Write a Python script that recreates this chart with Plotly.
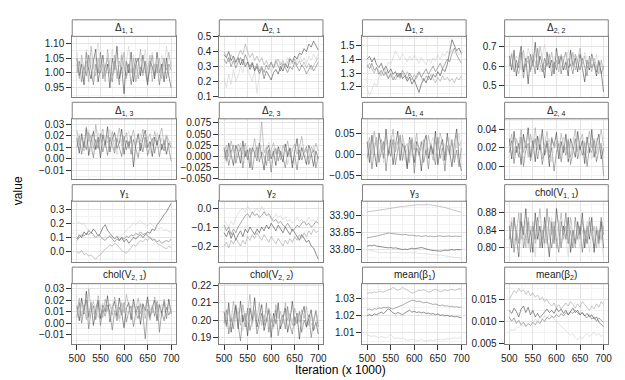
import plotly.graph_objects as go

# iterations (x 1000), one value every 5
ITER = list(range(500, 705, 5))
GREYS = ["#333333", "#666666", "#999999", "#cccccc"]

# ---- chains (4 chains per parameter) ----
d11 = [
    [1.05,0.99,1.03,0.96,1.07,1.01,0.98,1.04,1.08,0.97,1.02,1.06,0.99,1.03,0.95,1.05,1.01,1.09,0.98,1.02,0.93,1.04,1.00,1.07,0.97,1.03,1.05,0.99,1.06,1.01,0.96,1.04,1.02,0.98,1.07,1.00,1.03,0.97,1.05,0.99,0.95],
    [1.00,1.04,0.97,1.02,0.99,1.06,1.01,0.96,1.03,1.00,1.07,0.98,1.02,1.05,1.00,0.97,1.04,1.01,0.96,1.06,1.02,0.99,1.03,0.96,1.01,1.05,0.98,1.02,1.00,1.04,0.97,1.01,1.06,0.99,1.03,0.96,1.02,1.05,0.98,1.03,1.01],
    [1.03,0.98,1.06,1.01,1.04,0.97,1.09,1.02,0.99,1.05,1.00,1.03,0.97,1.08,1.02,0.99,1.06,0.98,1.04,1.01,1.07,0.98,1.03,1.00,1.05,0.97,1.02,1.08,0.99,1.04,1.01,1.06,0.97,1.03,1.00,1.05,0.98,1.04,1.01,1.07,1.02],
    [1.07,1.01,1.04,0.99,1.08,1.02,1.05,0.98,1.06,1.10,1.01,1.04,0.99,1.06,1.03,1.08,1.00,1.05,1.02,1.07,0.99,1.04,1.09,1.01,1.06,1.03,0.98,1.05,1.02,1.08,1.00,1.04,1.07,1.01,1.05,0.99,1.06,1.02,1.09,1.00,1.04],
]
d21 = [
    [0.38,0.36,0.40,0.34,0.37,0.33,0.36,0.31,0.35,0.30,0.33,0.28,0.32,0.27,0.30,0.25,0.29,0.22,0.27,0.24,0.21,0.26,0.28,0.25,0.30,0.27,0.32,0.29,0.35,0.33,0.37,0.35,0.39,0.38,0.42,0.40,0.45,0.43,0.47,0.44,0.41],
    [0.35,0.32,0.36,0.30,0.34,0.29,0.33,0.36,0.31,0.38,0.34,0.30,0.33,0.28,0.32,0.27,0.30,0.26,0.31,0.28,0.33,0.29,0.34,0.30,0.27,0.32,0.29,0.26,0.30,0.28,0.33,0.30,0.27,0.31,0.29,0.25,0.28,0.31,0.27,0.30,0.33],
    [0.40,0.37,0.33,0.38,0.35,0.32,0.37,0.41,0.38,0.45,0.40,0.36,0.39,0.34,0.37,0.33,0.36,0.31,0.34,0.30,0.33,0.29,0.32,0.35,0.31,0.34,0.30,0.33,0.36,0.32,0.35,0.31,0.34,0.30,0.33,0.29,0.32,0.28,0.31,0.34,0.36],
    [0.22,0.16,0.25,0.18,0.28,0.20,0.24,0.30,0.26,0.33,0.28,0.24,0.20,0.27,0.12,0.25,0.29,0.23,0.27,0.31,0.26,0.30,0.35,0.29,0.33,0.28,0.32,0.36,0.31,0.35,0.30,0.34,0.38,0.33,0.36,0.32,0.37,0.34,0.38,0.35,0.39],
]
d12 = [
    [1.40,1.42,1.38,1.41,1.36,1.34,1.37,1.32,1.35,1.30,1.33,1.29,1.31,1.27,1.30,1.26,1.28,1.24,1.27,1.22,1.25,1.20,1.16,1.22,1.26,1.23,1.28,1.25,1.29,1.27,1.31,1.28,1.33,1.31,1.36,1.45,1.54,1.50,1.46,1.48,1.44],
    [1.36,1.33,1.37,1.32,1.34,1.29,1.32,1.28,1.31,1.26,1.29,1.25,1.28,1.30,1.27,1.32,1.29,1.26,1.30,1.27,1.24,1.28,1.31,1.27,1.30,1.33,1.29,1.32,1.35,1.31,1.34,1.37,1.33,1.36,1.40,1.38,1.44,1.48,1.43,1.40,1.37],
    [1.34,1.37,1.33,1.30,1.34,1.31,1.28,1.32,1.29,1.26,1.30,1.27,1.25,1.29,1.26,1.30,1.27,1.31,1.28,1.25,1.29,1.26,1.30,1.27,1.24,1.28,1.25,1.29,1.26,1.23,1.27,1.24,1.28,1.25,1.27,1.24,1.26,1.23,1.27,1.25,1.28],
    [1.19,1.14,1.18,1.23,1.20,1.27,1.31,1.28,1.34,1.38,1.36,1.42,1.46,1.43,1.40,1.44,1.41,1.38,1.42,1.39,1.43,1.40,1.37,1.41,1.38,1.36,1.40,1.37,1.41,1.39,1.43,1.40,1.44,1.42,1.46,1.43,1.47,1.44,1.46,1.43,1.45],
]
d22 = [
    [0.65,0.58,0.68,0.55,0.63,0.70,0.57,0.64,0.51,0.66,0.60,0.72,0.58,0.65,0.61,0.54,0.67,0.59,0.63,0.56,0.69,0.61,0.65,0.58,0.62,0.55,0.68,0.60,0.64,0.57,0.66,0.59,0.52,0.63,0.58,0.66,0.60,0.55,0.62,0.57,0.47],
    [0.60,0.66,0.57,0.63,0.59,0.67,0.54,0.62,0.65,0.58,0.63,0.56,0.69,0.61,0.57,0.64,0.60,0.66,0.55,0.62,0.58,0.65,0.56,0.63,0.67,0.59,0.61,0.56,0.66,0.62,0.58,0.64,0.60,0.55,0.65,0.59,0.62,0.57,0.63,0.56,0.60],
    [0.63,0.59,0.65,0.61,0.56,0.64,0.68,0.60,0.63,0.57,0.66,0.62,0.59,0.70,0.63,0.58,0.64,0.61,0.67,0.59,0.63,0.57,0.66,0.62,0.58,0.64,0.60,0.67,0.58,0.63,0.69,0.61,0.65,0.59,0.62,0.57,0.64,0.60,0.56,0.63,0.58],
    [0.62,0.67,0.60,0.65,0.63,0.58,0.66,0.61,0.69,0.64,0.60,0.66,0.62,0.57,0.65,0.71,0.62,0.66,0.60,0.64,0.67,0.61,0.58,0.65,0.62,0.68,0.63,0.59,0.66,0.61,0.64,0.60,0.67,0.63,0.59,0.65,0.61,0.66,0.58,0.62,0.55],
]
d13 = [
    [0.018,0.005,0.022,0.010,0.027,0.003,0.015,0.024,0.008,0.019,0.001,0.021,0.012,0.028,0.006,0.017,0.023,0.009,0.014,0.026,0.004,0.016,0.011,0.020,-0.007,0.013,0.022,0.007,0.018,0.025,0.010,0.015,0.002,0.019,0.012,0.021,0.008,0.016,0.004,0.014,0.010],
    [0.010,0.020,0.004,0.015,0.008,0.023,0.012,0.001,0.017,0.009,0.022,0.006,0.016,0.003,0.019,0.011,0.005,0.018,0.010,0.002,0.020,0.008,0.015,0.004,0.017,0.009,0.001,0.014,0.006,0.019,0.003,0.012,0.018,0.005,0.016,0.002,0.013,0.007,0.020,0.009,-0.002],
    [0.025,0.012,0.019,0.007,0.028,0.015,0.021,0.009,0.030,0.014,0.018,0.026,0.010,0.020,0.013,0.024,0.008,0.019,0.027,0.011,0.016,0.023,0.009,0.018,0.025,0.012,0.020,0.015,0.026,0.010,0.017,0.022,0.011,0.024,0.014,0.019,0.027,0.012,0.021,0.016,0.013],
    [0.014,0.022,0.008,0.019,0.013,0.025,0.006,0.018,0.012,0.023,0.016,0.009,0.020,0.014,0.026,0.011,0.017,0.004,0.021,0.015,0.010,0.019,0.024,0.013,0.007,0.018,0.014,0.022,0.009,0.016,0.020,0.005,0.017,0.013,0.023,0.010,0.018,0.014,0.021,0.008,0.015],
]
d23 = [
    [0.020,-0.010,0.030,0.005,-0.020,0.025,0.010,-0.015,0.035,0.000,0.015,-0.025,0.020,0.008,-0.010,0.030,0.002,-0.030,0.015,0.025,-0.005,0.012,-0.020,0.022,0.005,-0.012,0.028,0.000,0.018,-0.025,0.010,0.040,-0.008,0.020,0.003,-0.018,0.025,0.008,-0.022,0.012,-0.005],
    [-0.005,0.015,-0.020,0.010,0.025,-0.015,0.005,0.020,-0.025,0.012,-0.008,0.018,-0.030,0.005,0.022,-0.012,0.010,0.000,-0.020,0.015,-0.035,0.008,0.018,-0.010,0.012,0.000,-0.025,0.010,0.020,-0.015,0.003,-0.030,0.015,-0.008,0.010,0.022,-0.018,0.005,0.015,-0.025,0.000],
    [0.010,0.025,0.000,0.035,0.012,-0.008,0.028,0.015,0.005,0.030,-0.005,0.020,0.010,0.040,0.002,0.018,0.077,0.008,0.022,-0.010,0.015,0.030,0.005,0.018,-0.008,0.025,0.010,0.035,0.000,0.015,0.028,0.005,0.020,0.045,0.008,0.015,-0.005,0.022,0.010,0.030,0.012],
    [0.005,-0.012,0.018,0.000,0.022,-0.008,0.012,0.030,-0.005,0.015,0.025,-0.015,0.010,0.020,-0.010,0.008,0.025,-0.005,0.012,0.032,0.000,0.018,-0.012,0.010,0.025,0.003,0.015,-0.018,0.008,0.020,-0.005,0.012,0.028,0.000,0.015,-0.010,0.020,0.005,0.025,-0.008,0.010],
]
d14 = [
    [0.030,-0.020,0.045,0.005,-0.030,0.050,0.015,-0.010,0.060,0.000,0.035,-0.025,0.020,0.055,-0.015,0.025,0.010,-0.035,0.040,0.005,-0.020,0.030,0.015,-0.040,0.025,0.045,-0.010,0.020,0.000,0.055,-0.025,0.015,0.035,-0.015,0.050,0.005,-0.030,0.025,0.060,-0.010,-0.040],
    [-0.010,0.025,-0.035,0.010,0.040,-0.020,0.005,0.030,-0.040,0.015,-0.005,0.035,-0.025,0.010,0.045,-0.015,0.020,-0.030,0.005,0.035,-0.045,0.015,0.000,0.030,-0.020,0.010,-0.035,0.025,0.005,-0.025,0.040,-0.010,0.015,-0.040,0.020,0.000,0.035,-0.020,0.010,-0.030,0.015],
    [0.015,0.040,0.000,0.055,0.020,-0.015,0.035,0.010,0.050,-0.005,0.025,0.060,0.005,0.030,-0.010,0.045,0.015,0.025,-0.020,0.040,0.010,0.050,-0.005,0.020,0.035,0.000,0.045,0.015,-0.015,0.030,0.010,0.050,0.020,-0.005,0.040,0.015,0.025,-0.010,0.045,0.020,0.030],
    [0.005,0.030,-0.015,0.020,0.040,0.000,0.025,-0.020,0.035,0.010,0.045,-0.010,0.020,0.030,0.000,0.040,-0.015,0.015,0.035,-0.005,0.025,0.045,0.005,0.020,-0.010,0.035,0.010,0.025,0.040,-0.005,0.020,0.030,-0.015,0.025,0.010,0.040,0.000,0.030,0.015,0.050,0.005],
]
d24 = [
    [0.030,0.008,0.038,0.015,0.025,0.002,0.035,0.020,0.042,0.010,0.028,0.005,0.033,0.018,0.040,0.012,0.025,0.000,0.030,0.022,0.037,0.008,0.027,0.015,0.035,0.005,0.030,0.020,0.010,0.038,0.018,0.028,0.003,0.032,0.015,0.040,0.010,0.025,0.035,0.008,0.020],
    [0.015,0.028,0.003,0.022,0.010,0.032,0.000,0.018,0.025,0.006,0.020,0.030,0.008,0.024,0.002,0.018,0.028,0.010,0.020,-0.005,0.015,0.025,0.005,0.022,0.012,0.028,0.002,0.018,0.030,0.008,0.022,0.012,0.026,0.000,0.020,0.015,0.028,0.005,0.018,0.025,-0.010],
    [0.022,0.035,0.012,0.030,0.020,0.040,0.015,0.028,0.010,0.035,0.022,0.042,0.018,0.030,0.008,0.025,0.038,0.015,0.032,0.020,0.026,0.012,0.036,0.022,0.018,0.030,0.010,0.025,0.040,0.016,0.028,0.035,0.012,0.024,0.038,0.020,0.030,0.014,0.028,0.040,0.022],
    [0.018,0.025,0.010,0.030,0.015,0.022,0.005,0.028,0.020,0.032,0.012,0.025,0.018,0.035,0.010,0.022,0.015,0.030,0.005,0.025,0.020,0.028,0.012,0.032,0.018,0.008,0.026,0.015,0.022,0.030,0.010,0.020,0.028,0.014,0.025,0.008,0.022,0.030,0.015,0.025,0.018],
]
g1 = [
    [0.09,0.12,0.10,0.14,0.12,0.15,0.13,0.16,0.14,0.11,0.13,0.17,0.19,0.15,0.13,0.11,0.09,0.11,0.08,0.10,0.07,0.09,0.06,0.08,0.10,0.09,0.11,0.12,0.10,0.12,0.14,0.13,0.16,0.15,0.19,0.21,0.24,0.26,0.28,0.31,0.34],
    [0.08,0.10,0.12,0.11,0.13,0.12,0.14,0.12,0.10,0.12,0.11,0.09,0.08,0.10,0.11,0.09,0.07,0.09,0.08,0.10,0.09,0.11,0.10,0.12,0.11,0.13,0.12,0.14,0.12,0.13,0.11,0.10,0.08,0.09,0.07,0.08,0.06,0.07,0.08,0.07,0.09],
    [0.00,-0.01,0.01,-0.02,-0.01,-0.03,-0.02,-0.04,-0.05,-0.03,-0.02,0.00,0.02,0.03,0.05,0.04,0.06,0.05,0.03,0.01,0.00,-0.01,0.01,0.03,0.05,0.04,0.06,0.08,0.07,0.09,0.08,0.10,0.09,0.08,0.06,0.05,0.04,0.03,0.02,0.04,0.03],
    [0.20,0.21,0.19,0.20,0.17,0.15,0.13,0.11,0.10,0.12,0.10,0.09,0.11,0.10,0.12,0.10,0.09,0.11,0.10,0.12,0.13,0.15,0.17,0.18,0.20,0.19,0.21,0.22,0.20,0.19,0.18,0.20,0.19,0.17,0.18,0.16,0.17,0.15,0.16,0.14,0.14],
]
g2 = [
    [-0.13,-0.15,-0.12,-0.16,-0.13,-0.17,-0.14,-0.12,-0.15,-0.11,-0.13,-0.10,-0.12,-0.14,-0.11,-0.13,-0.10,-0.12,-0.09,-0.11,-0.08,-0.10,-0.12,-0.09,-0.11,-0.13,-0.10,-0.12,-0.14,-0.11,-0.13,-0.15,-0.17,-0.14,-0.16,-0.18,-0.17,-0.20,-0.21,-0.24,-0.27],
    [-0.09,-0.12,-0.10,-0.14,-0.11,-0.13,-0.10,-0.08,-0.06,-0.04,-0.03,-0.05,-0.02,-0.04,-0.03,-0.05,-0.04,-0.02,-0.04,-0.03,-0.05,-0.07,-0.06,-0.08,-0.07,-0.09,-0.10,-0.08,-0.10,-0.12,-0.11,-0.09,-0.10,-0.08,-0.07,-0.09,-0.08,-0.10,-0.09,-0.07,-0.08],
    [-0.20,-0.18,-0.21,-0.17,-0.19,-0.16,-0.18,-0.20,-0.17,-0.19,-0.15,-0.17,-0.14,-0.16,-0.13,-0.15,-0.17,-0.14,-0.16,-0.18,-0.15,-0.17,-0.19,-0.16,-0.18,-0.20,-0.17,-0.19,-0.16,-0.18,-0.15,-0.17,-0.14,-0.16,-0.13,-0.15,-0.12,-0.14,-0.11,-0.13,-0.12],
    [-0.06,-0.08,-0.10,-0.07,-0.09,-0.05,-0.03,-0.01,0.00,-0.02,0.01,-0.01,-0.03,-0.02,0.00,-0.02,0.01,-0.01,-0.03,-0.04,-0.06,-0.05,-0.03,-0.05,-0.04,-0.06,-0.05,-0.07,-0.06,-0.08,-0.07,-0.05,-0.07,-0.06,-0.08,-0.07,-0.05,-0.07,-0.06,-0.08,-0.05],
]
g3 = [
    [33.810,33.812,33.811,33.813,33.810,33.809,33.807,33.808,33.806,33.805,33.806,33.804,33.805,33.803,33.802,33.800,33.801,33.800,33.802,33.804,33.802,33.803,33.805,33.806,33.804,33.801,33.800,33.798,33.797,33.796,33.797,33.795,33.796,33.798,33.797,33.799,33.800,33.798,33.800,33.799,33.800],
    [33.835,33.836,33.838,33.837,33.840,33.842,33.844,33.846,33.847,33.849,33.848,33.847,33.848,33.846,33.845,33.844,33.845,33.843,33.842,33.843,33.841,33.840,33.841,33.839,33.840,33.841,33.839,33.840,33.838,33.839,33.840,33.841,33.839,33.840,33.841,33.840,33.839,33.840,33.840,33.839,33.840],
    [33.912,33.913,33.915,33.914,33.916,33.918,33.917,33.919,33.920,33.922,33.921,33.923,33.925,33.926,33.928,33.927,33.929,33.930,33.931,33.932,33.933,33.932,33.934,33.933,33.934,33.935,33.934,33.933,33.932,33.930,33.931,33.929,33.927,33.925,33.923,33.921,33.920,33.918,33.916,33.913,33.911],
    [33.800,33.798,33.796,33.795,33.793,33.792,33.790,33.791,33.790,33.789,33.790,33.791,33.792,33.791,33.790,33.791,33.790,33.789,33.791,33.790,33.792,33.790,33.788,33.787,33.788,33.786,33.787,33.785,33.786,33.784,33.783,33.784,33.782,33.781,33.780,33.779,33.778,33.777,33.776,33.775,33.774],
]
v11 = [
    [0.85,0.80,0.87,0.82,0.78,0.86,0.83,0.89,0.81,0.84,0.79,0.88,0.82,0.85,0.80,0.87,0.83,0.78,0.86,0.81,0.89,0.84,0.80,0.85,0.82,0.87,0.79,0.84,0.81,0.86,0.83,0.88,0.80,0.85,0.82,0.87,0.79,0.84,0.81,0.86,0.80],
    [0.82,0.86,0.79,0.84,0.81,0.88,0.80,0.83,0.86,0.79,0.85,0.82,0.87,0.80,0.84,0.81,0.89,0.83,0.80,0.85,0.82,0.79,0.86,0.83,0.88,0.81,0.84,0.80,0.87,0.82,0.85,0.79,0.84,0.81,0.86,0.83,0.80,0.85,0.82,0.87,0.83],
    [0.84,0.81,0.86,0.83,0.88,0.82,0.85,0.80,0.87,0.83,0.86,0.81,0.84,0.89,0.82,0.85,0.81,0.87,0.83,0.86,0.80,0.84,0.88,0.82,0.85,0.81,0.87,0.83,0.80,0.85,0.82,0.86,0.84,0.81,0.87,0.83,0.85,0.80,0.84,0.82,0.85],
    [0.83,0.87,0.81,0.85,0.79,0.84,0.82,0.86,0.80,0.85,0.83,0.78,0.86,0.82,0.84,0.80,0.85,0.82,0.87,0.81,0.83,0.86,0.80,0.84,0.82,0.78,0.85,0.81,0.86,0.83,0.80,0.84,0.82,0.86,0.79,0.84,0.81,0.85,0.80,0.83,0.78],
]
v21 = [
    [0.015,0.002,0.022,0.008,0.028,0.005,0.018,-0.002,0.012,0.020,0.004,0.016,0.010,0.024,0.001,0.014,0.019,0.006,0.022,0.010,-0.004,0.013,0.018,0.003,0.021,0.009,0.015,-0.001,0.017,0.011,0.023,0.005,0.014,0.020,0.002,0.016,0.009,0.019,0.004,0.021,0.008],
    [0.005,0.018,0.000,0.012,0.020,-0.005,0.010,0.015,0.003,0.018,-0.002,0.012,0.006,0.016,0.009,-0.006,0.011,0.002,0.014,0.007,0.018,0.001,0.010,0.015,-0.003,0.009,0.004,0.017,0.008,-0.014,0.012,0.003,0.015,0.006,0.019,-0.008,0.010,0.002,0.014,0.007,0.012],
    [0.010,0.022,0.006,0.016,0.003,0.030,0.012,0.019,0.008,0.024,0.013,0.005,0.021,0.011,0.017,0.007,0.023,0.012,0.004,0.018,0.009,0.025,0.014,0.006,0.019,0.012,0.022,0.008,0.016,0.004,0.020,0.013,0.009,0.023,0.011,0.017,0.006,0.021,0.012,0.018,0.010],
    [0.012,0.006,0.017,0.009,0.014,0.002,0.019,0.008,0.015,0.005,0.013,0.018,0.007,0.012,0.004,0.016,0.009,0.014,0.001,0.011,0.017,0.006,0.013,0.009,0.015,0.003,0.012,0.018,0.007,0.014,0.010,0.002,0.016,0.009,0.013,0.006,0.017,0.011,0.005,0.014,0.009],
]
v22 = [
    [0.205,0.197,0.210,0.193,0.202,0.208,0.195,0.211,0.199,0.204,0.191,0.207,0.200,0.213,0.196,0.203,0.209,0.194,0.201,0.206,0.190,0.204,0.198,0.210,0.195,0.202,0.207,0.193,0.200,0.211,0.197,0.204,0.189,0.203,0.208,0.196,0.201,0.206,0.194,0.199,0.192],
    [0.198,0.206,0.192,0.201,0.195,0.209,0.197,0.188,0.203,0.196,0.207,0.194,0.200,0.205,0.192,0.199,0.204,0.197,0.210,0.193,0.201,0.196,0.206,0.191,0.199,0.203,0.195,0.208,0.197,0.192,0.202,0.198,0.205,0.193,0.200,0.196,0.203,0.190,0.199,0.205,0.196],
    [0.202,0.196,0.208,0.199,0.211,0.201,0.205,0.197,0.209,0.200,0.204,0.215,0.198,0.206,0.201,0.210,0.197,0.203,0.199,0.207,0.202,0.196,0.209,0.201,0.205,0.198,0.210,0.200,0.204,0.197,0.207,0.202,0.199,0.206,0.201,0.208,0.197,0.203,0.200,0.206,0.198],
    [0.217,0.200,0.205,0.196,0.203,0.199,0.207,0.201,0.194,0.204,0.198,0.202,0.196,0.206,0.200,0.203,0.197,0.201,0.205,0.198,0.203,0.195,0.200,0.204,0.197,0.202,0.199,0.205,0.196,0.201,0.198,0.203,0.200,0.195,0.204,0.199,0.202,0.197,0.201,0.198,0.203],
]
mb1 = [
    [1.0200,1.0205,1.0198,1.0210,1.0205,1.0215,1.0220,1.0212,1.0225,1.0240,1.0230,1.0215,1.0210,1.0218,1.0212,1.0205,1.0215,1.0225,1.0232,1.0220,1.0225,1.0218,1.0222,1.0215,1.0220,1.0212,1.0215,1.0208,1.0212,1.0205,1.0210,1.0200,1.0205,1.0198,1.0202,1.0195,1.0198,1.0192,1.0195,1.0190,1.0188],
    [1.0235,1.0238,1.0232,1.0240,1.0238,1.0245,1.0242,1.0248,1.0245,1.0250,1.0242,1.0238,1.0245,1.0250,1.0255,1.0262,1.0270,1.0278,1.0285,1.0290,1.0288,1.0282,1.0285,1.0280,1.0275,1.0278,1.0272,1.0270,1.0265,1.0268,1.0262,1.0258,1.0262,1.0255,1.0258,1.0252,1.0255,1.0250,1.0252,1.0248,1.0250],
    [1.0330,1.0335,1.0332,1.0340,1.0335,1.0345,1.0340,1.0338,1.0345,1.0350,1.0355,1.0365,1.0358,1.0348,1.0355,1.0365,1.0358,1.0350,1.0340,1.0332,1.0335,1.0342,1.0350,1.0345,1.0352,1.0345,1.0338,1.0342,1.0348,1.0355,1.0348,1.0340,1.0345,1.0352,1.0345,1.0350,1.0355,1.0348,1.0352,1.0358,1.0355],
    [1.0085,1.0080,1.0078,1.0082,1.0075,1.0070,1.0078,1.0072,1.0068,1.0080,1.0090,1.0072,1.0065,1.0070,1.0062,1.0068,1.0060,1.0055,1.0058,1.0062,1.0058,1.0052,1.0055,1.0060,1.0055,1.0050,1.0055,1.0058,1.0052,1.0058,1.0062,1.0058,1.0062,1.0058,1.0065,1.0060,1.0068,1.0070,1.0065,1.0070,1.0068],
]
mb2 = [
    [0.0125,0.0118,0.0130,0.0122,0.0110,0.0128,0.0135,0.0120,0.0132,0.0115,0.0125,0.0110,0.0118,0.0108,0.0115,0.0122,0.0128,0.0120,0.0125,0.0118,0.0130,0.0122,0.0128,0.0118,0.0125,0.0115,0.0122,0.0130,0.0120,0.0125,0.0115,0.0120,0.0112,0.0118,0.0110,0.0115,0.0105,0.0110,0.0098,0.0092,0.0088],
    [0.0110,0.0100,0.0108,0.0095,0.0102,0.0092,0.0098,0.0088,0.0095,0.0090,0.0098,0.0092,0.0100,0.0095,0.0105,0.0100,0.0110,0.0105,0.0112,0.0108,0.0115,0.0110,0.0118,0.0112,0.0120,0.0115,0.0122,0.0118,0.0125,0.0120,0.0115,0.0120,0.0112,0.0108,0.0115,0.0105,0.0110,0.0100,0.0108,0.0102,0.0098],
    [0.0150,0.0160,0.0170,0.0165,0.0175,0.0168,0.0172,0.0162,0.0170,0.0158,0.0165,0.0155,0.0160,0.0150,0.0155,0.0145,0.0150,0.0140,0.0135,0.0142,0.0130,0.0138,0.0128,0.0135,0.0142,0.0135,0.0145,0.0138,0.0130,0.0140,0.0132,0.0145,0.0138,0.0130,0.0125,0.0135,0.0128,0.0140,0.0132,0.0145,0.0138],
    [0.0075,0.0082,0.0078,0.0088,0.0085,0.0092,0.0088,0.0095,0.0092,0.0100,0.0095,0.0105,0.0100,0.0110,0.0105,0.0112,0.0108,0.0115,0.0110,0.0105,0.0100,0.0095,0.0090,0.0085,0.0080,0.0075,0.0068,0.0072,0.0062,0.0058,0.0065,0.0060,0.0068,0.0072,0.0065,0.0070,0.0075,0.0068,0.0072,0.0065,0.0070],
]

# facet labels, data, y tick values, tick format
PANELS = [
    ("Δ<sub>1, 1</sub>", d11, [0.95, 1.00, 1.05, 1.10], ".2f"),
    ("Δ<sub>2, 1</sub>", d21, [0.1, 0.2, 0.3, 0.4, 0.5], ".1f"),
    ("Δ<sub>1, 2</sub>", d12, [1.2, 1.3, 1.4, 1.5], ".1f"),
    ("Δ<sub>2, 2</sub>", d22, [0.5, 0.6, 0.7], ".1f"),
    ("Δ<sub>1, 3</sub>", d13, [-0.01, 0.00, 0.01, 0.02, 0.03], ".2f"),
    ("Δ<sub>2, 3</sub>", d23, [-0.050, -0.025, 0.000, 0.025, 0.050, 0.075], ".3f"),
    ("Δ<sub>1, 4</sub>", d14, [-0.05, 0.00, 0.05], ".2f"),
    ("Δ<sub>2, 4</sub>", d24, [0.00, 0.02, 0.04], ".2f"),
    ("γ<sub>1</sub>", g1, [0.0, 0.1, 0.2, 0.3], ".1f"),
    ("γ<sub>2</sub>", g2, [-0.2, -0.1, 0.0], ".1f"),
    ("γ<sub>3</sub>", g3, [33.80, 33.85, 33.90], ".2f"),
    ("chol(V<sub>1, 1</sub>)", v11, [0.80, 0.84, 0.88], ".2f"),
    ("chol(V<sub>2, 1</sub>)", v21, [-0.01, 0.00, 0.01, 0.02, 0.03], ".2f"),
    ("chol(V<sub>2, 2</sub>)", v22, [0.19, 0.20, 0.21, 0.22], ".2f"),
    ("mean(β<sub>1</sub>)", mb1, [1.01, 1.02, 1.03], ".2f"),
    ("mean(β<sub>2</sub>)", mb2, [0.005, 0.010, 0.015], ".3f"),
]

# y ranges of each panel (ggplot-like padding)
YRANGES = [
    [0.920, 1.123], [0.098, 0.502], [1.129, 1.564], [0.445, 0.750],
    [-0.0177, 0.0349], [-0.0506, 0.084], [-0.0595, 0.084], [-0.0139, 0.0516],
    [-0.068, 0.3545], [-0.282, 0.036], [33.764, 33.944], [0.769, 0.9067],
    [-0.0183, 0.0345], [0.1862, 0.2211], [1.0033, 1.0387], [0.0048, 0.0186],
]

W, H = 625, 380
COLS = [(61, 166), (210, 315), (355, 460), (499, 604)]
ROWS = [(24, 86), (108.7, 170.7), (193.3, 255.3), (278, 340)]
STRIP = 17
BORDER = "#7f7f7f"
FONT = "Liberation Sans, Arial, sans-serif"

fig = go.Figure()
layout = dict(
    width=W, height=H, margin=dict(l=0, r=0, t=0, b=0),
    paper_bgcolor="white", plot_bgcolor="white", showlegend=False,
    font=dict(family=FONT, size=10, color="#222222"),
)
shapes, annotations = [], []

for i, (label, chains, ticks, fmt) in enumerate(PANELS):
    r, c = divmod(i, 4)
    x0, x1 = COLS[c]
    y0, y1 = ROWS[r]
    n = "" if i == 0 else str(i + 1)
    xa, ya = "x" + n, "y" + n
    for k, vals in enumerate(chains):
        fig.add_trace(go.Scatter(
            x=ITER[:len(vals)], y=vals, mode="lines", xaxis=xa, yaxis=ya,
            line=dict(color=GREYS[k], width=0.55), hoverinfo="skip"))
    bottom = r == 3
    layout["xaxis" + n] = dict(
        domain=[x0 / W, x1 / W], anchor=ya, range=[490, 710],
        tickvals=[500, 550, 600, 650, 700], showticklabels=bottom,
        ticks="outside" if bottom else "", ticklen=5, tickwidth=1.2,
        tickcolor="#333333", tickfont=dict(size=10, color="#222222"),
        showgrid=True, gridcolor="#e4e4e4", gridwidth=0.8,
        minor=dict(tickvals=[525, 575, 625, 675], showgrid=True,
                   gridcolor="#f3f3f3", gridwidth=0.6),
        showline=True, mirror=True, linecolor=BORDER, linewidth=1,
        zeroline=False, fixedrange=True,
    )
    step = ticks[1] - ticks[0]
    layout["yaxis" + n] = dict(
        domain=[1 - y1 / H, 1 - y0 / H], anchor=xa, range=YRANGES[i],
        tickvals=ticks, tickformat=fmt, ticks="outside", ticklen=5,
        tickwidth=1.2, tickcolor="#333333",
        tickfont=dict(size=10, color="#222222"),
        showgrid=True, gridcolor="#e4e4e4", gridwidth=0.8,
        minor=dict(tick0=ticks[0] + step / 2, dtick=step, showgrid=True,
                   gridcolor="#f3f3f3", gridwidth=0.6),
        showline=True, mirror=True, linecolor=BORDER, linewidth=1,
        zeroline=False, fixedrange=True,
    )
    # facet strip
    shapes.append(dict(
        type="rect", xref="paper", yref="paper",
        x0=x0 / W, x1=x1 / W, y0=1 - y0 / H, y1=1 - (y0 - STRIP) / H,
        fillcolor="white", line=dict(color=BORDER, width=1)))
    annotations.append(dict(
        text=label, xref="paper", yref="paper", showarrow=False,
        x=(x0 + x1) / 2 / W, y=1 - (y0 - STRIP / 2) / H,
        xanchor="center", yanchor="middle",
        font=dict(size=10, color="#1a1a1a")))

annotations.append(dict(
    text="value", xref="paper", yref="paper", showarrow=False,
    x=6 / W, y=1 - 182 / H, textangle=-90,
    xanchor="center", yanchor="middle", font=dict(size=12, color="#000000")))
annotations.append(dict(
    text="Iteration (x 1000)", xref="paper", yref="paper", showarrow=False,
    x=332.5 / W, y=1 - 367 / H,
    xanchor="center", yanchor="middle", font=dict(size=12, color="#000000")))

layout["shapes"] = shapes
layout["annotations"] = annotations
fig.update_layout(**layout)

fig.write_html("out.html")
